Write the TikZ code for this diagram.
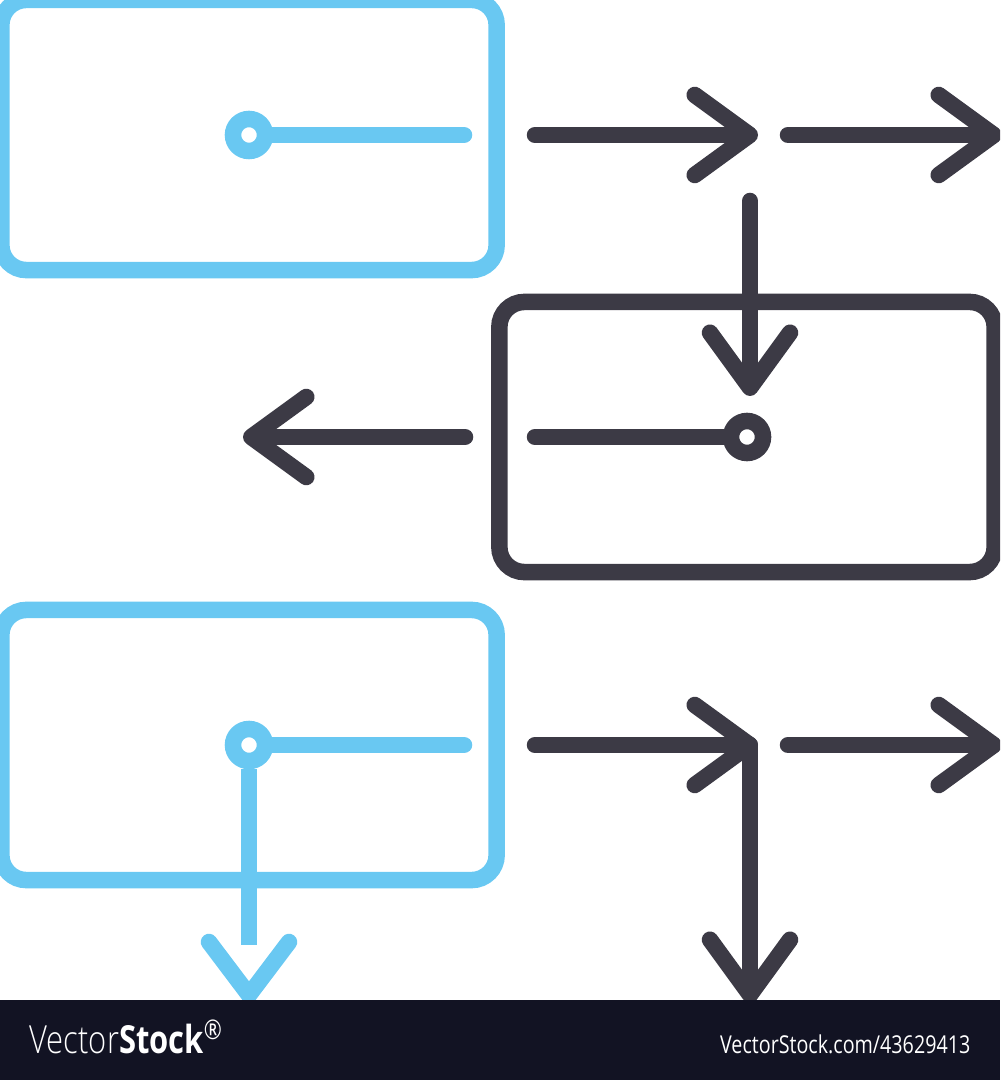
\documentclass[tikz,border=0pt]{standalone}
\usepackage{fontspec}
\usepackage{graphicx}
\usetikzlibrary{arrows.meta}
\newfontfamily\stockfont{Open Sans}
\newfontfamily\stocklight{Open Sans Light}
\definecolor{skyline}{HTML}{69C8F2}
\definecolor{inkline}{HTML}{3C3A45}
\definecolor{bandnavy}{HTML}{121323}

\begin{document}
\begin{tikzpicture}[x=0.01cm,y=-0.01cm]
  \tikzset{flow box/.style={draw=#1,rounded corners=0.25cm,line width=0.165cm,minimum width=4.95cm,minimum height=2.7cm,inner sep=0pt}}
  \tikzset{port/.style={draw=#1,circle,line width=0.165cm,minimum size=0.32cm,inner sep=0pt}}
  \tikzset{link/.style={draw=#1,line width=0.165cm,line cap=round,line join=round}}
  \tikzset{flow/.style={link=#1,-{Straight Barb[length=0.55cm,width=0.8cm,round]}}}
  \useasboundingbox (0,0) rectangle (1000,1080);
  \clip (0,0) rectangle (1000,1080);

  % boxes and their ports
  \node[flow box=skyline] (b1) at (249,135) {};
  \node[flow box=inkline] (b2) at (747,437) {};
  \node[flow box=skyline] (b3) at (249,745) {};
  \node[port=skyline] (c1) at (b1.center) {};
  \node[port=inkline] (c2) at (b2.center) {};
  \node[port=skyline] (c3) at (b3.center) {};

  \coordinate (e1) at (464,135);
  \coordinate (e2) at (535,437);
  \coordinate (e3) at (464,745);
  \coordinate (a1s) at (535,135);  \coordinate (a1t) at (758,135);
  \coordinate (a2s) at (788,135);  \coordinate (a2t) at (1002,135);
  \coordinate (d1s) at (750,201);  \coordinate (d1t) at (750,396);
  \coordinate (l1s) at (465,437);  \coordinate (l1t) at (243,437);
  \coordinate (d3m) at (249,945);  \coordinate (d3t) at (249,995);
  \coordinate (a3s) at (535,745);  \coordinate (a3t) at (758,745);
  \coordinate (a4s) at (788,745);  \coordinate (a4t) at (1002,745);
  \coordinate (d4s) at (750,745);  \coordinate (d4t) at (750,1003);

  \draw[link=skyline] (c1) -- (e1);
  \draw[link=inkline] (c2) -- (e2);
  \draw[link=skyline] (c3) -- (e3);
  \draw[flow=inkline] (a1s) -- (a1t);
  \draw[flow=inkline] (a2s) -- (a2t);
  \draw[flow=inkline] (d1s) -- (d1t);
  \draw[flow=inkline] (l1s) -- (l1t);
  \draw[link=skyline,line cap=butt] (c3) -- (d3m);
  \draw[link=skyline] ([shift={(-40,-53)}]d3t) -- (d3t) -- ([shift={(40,-53)}]d3t);
  \draw[flow=inkline] (a3s) -- (a3t);
  \draw[flow=inkline] (a4s) -- (a4t);
  \draw[flow=inkline] (d4s) -- (d4t);

  % watermark band
  \fill[bandnavy] (0,1000) rectangle (1000,1080);
  \node[font=\stockfont\fontsize{11}{12}\selectfont,text=white,anchor=base west,inner sep=0pt] (logo) at (29,1053) {\scalebox{0.8}[1]{{\stocklight Vector}\textbf{Stock}\textsuperscript{\textregistered}}};
  \node[font=\stockfont\fontsize{7}{8}\selectfont,text=white,anchor=base east,inner sep=0pt] (stockid) at (971,1053) {\scalebox{0.8}[1]{VectorStock.com/43629413}};
\end{tikzpicture}
\end{document}
